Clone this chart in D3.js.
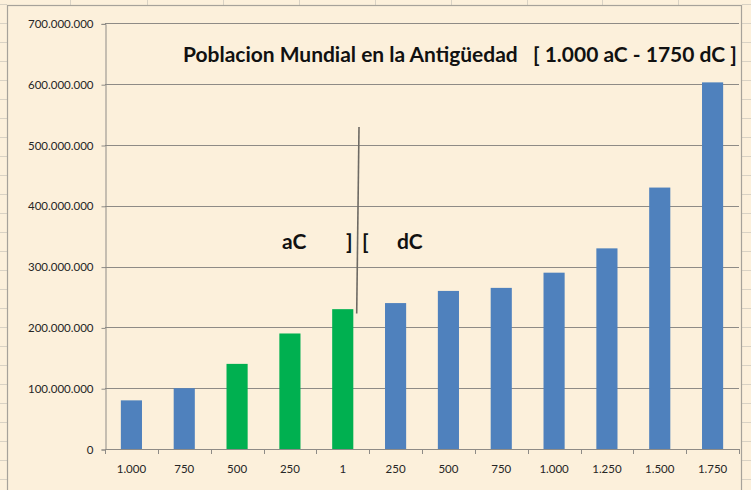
<!DOCTYPE html>
<html>
<head>
<meta charset="utf-8">
<script src="https://cdn.jsdelivr.net/npm/d3@7"></script>
<style>
  html, body { margin: 0; padding: 0; background: #fcf0db; }
  svg { display: block; }
  text { font-family: Lato, "Open Sans", sans-serif; }
</style>
</head>
<body>
<svg id="chart" width="751" height="490"></svg>
<script>
// ---- data ----
const categories = ["1.000", "750", "500", "250", "1", "250", "500", "750", "1.000", "1.250", "1.500", "1.750"];
const population = [80e6, 100e6, 140e6, 190e6, 230e6, 240e6, 260e6, 265e6, 290e6, 330e6, 430e6, 603e6];
const highlighted = [false, false, true, true, true, false, false, false, false, false, false, false];
const yTicks = [0, 100e6, 200e6, 300e6, 400e6, 500e6, 600e6, 700e6];
const title = "Poblacion Mundial en la Antigüedad   [ 1.000 aC - 1750 dC ]";

// ---- layout ----
const W = 751, H = 490;
const plot = { left: 105, right: 739, top: 23.4, bottom: 449 };
const svg = d3.select("#chart");

// background & spreadsheet grid outside chart area
svg.append("rect").attr("width", W).attr("height", H).attr("fill", "#fcf0db");
const sheet = svg.append("g").attr("stroke", "#d9d2c4").attr("stroke-width", 1);
[70, 147, 223, 299, 375, 451, 527, 602, 678].forEach(x =>
  sheet.append("line").attr("x1", x + 0.5).attr("x2", x + 0.5).attr("y1", 0).attr("y2", 5));
d3.range(4, 490, 19).forEach(y => {
  sheet.append("line").attr("x1", 0).attr("x2", 7).attr("y1", y + 0.5).attr("y2", y + 0.5);
  sheet.append("line").attr("x1", 742).attr("x2", 751).attr("y1", y + 0.5).attr("y2", y + 0.5);
});
// chart area
svg.append("rect").attr("x", 7.5).attr("y", 5.5).attr("width", 734).attr("height", 500)
  .attr("fill", "#fcf0db").attr("stroke", "#a6a29a").attr("stroke-width", 1.2);

// ---- scales ----
const x = d3.scaleBand().domain(d3.range(categories.length))
  .range([plot.left, plot.right]).paddingInner(0.6).paddingOuter(0.3);
const y = d3.scaleLinear().domain([0, 700e6]).range([plot.bottom, plot.top]);

const loc = d3.formatLocale({ decimal: ",", thousands: ".", grouping: [3], currency: ["", ""] });
const fmt = loc.format(",");

// gridlines
svg.append("g").selectAll("line").data(yTicks.filter(d => d > 0)).join("line")
  .attr("x1", plot.left).attr("x2", plot.right)
  .attr("y1", d => Math.round(y(d)) + 0.5).attr("y2", d => Math.round(y(d)) + 0.5)
  .attr("stroke", "#8e8b86").attr("stroke-width", 1);

// bars
svg.append("g").selectAll("rect").data(population).join("rect")
  .attr("x", (d, i) => x(i)).attr("width", x.bandwidth())
  .attr("y", d => y(d)).attr("height", d => y(0) - y(d))
  .attr("fill", (d, i) => highlighted[i] ? "#00b050" : "#4f81bd");

// y axis
const yAxis = svg.append("g").attr("transform", `translate(${plot.left + 0.5},0.5)`)
  .call(d3.axisLeft(y).tickValues(yTicks).tickFormat(fmt).tickSize(4).tickPadding(8));
// x axis
const xAxis = svg.append("g").attr("transform", `translate(0,${Math.round(plot.bottom) + 0.5})`)
  .call(d3.axisBottom(x).tickFormat(i => categories[i]).tickSize(0).tickPadding(15));
// x boundary ticks
const step = x.step();
svg.append("g").selectAll("line").data(d3.range(categories.length + 1)).join("line")
  .attr("x1", i => Math.round(plot.left + i * step) + 0.5).attr("x2", i => Math.round(plot.left + i * step) + 0.5)
  .attr("y1", Math.round(plot.bottom)).attr("y2", Math.round(plot.bottom) + 5)
  .attr("stroke", "#8e8b86");

[yAxis, xAxis].forEach(g => {
  g.select(".domain").attr("stroke", "#8e8b86");
  g.selectAll(".tick line").attr("stroke", "#8e8b86");
  g.selectAll("text").attr("fill", "#262626").style("font-size", "11.5px").style("font-family", "Lato, 'Open Sans', sans-serif");
});
xAxis.select(".domain").attr("d", `M${plot.left},0H${plot.right}`);

// title
const t = svg.append("text").attr("x", 183).attr("y", 62)
  .style("white-space", "pre").style("font-weight", "bold").style("font-size", "18px")
  .attr("fill", "#111").text(title);
const tw = t.node().getComputedTextLength();
t.style("font-size", (18 * 554 / tw).toFixed(2) + "px");

// annotation: era divider
svg.append("line").attr("x1", 359).attr("y1", 127).attr("x2", 356.7).attr("y2", 313.5)
  .attr("stroke", "#6e6a64").attr("stroke-width", 1.6);
const ann = svg.append("g").style("font-weight", "bold").style("font-size", "21px").attr("fill", "#111");
ann.append("text").attr("x", 282).attr("y", 249).text("aC");
ann.append("text").attr("x", 346).attr("y", 249).text("]");
ann.append("text").attr("x", 362).attr("y", 249).text("[");
ann.append("text").attr("x", 397).attr("y", 249).text("dC");
</script>
</body>
</html>
